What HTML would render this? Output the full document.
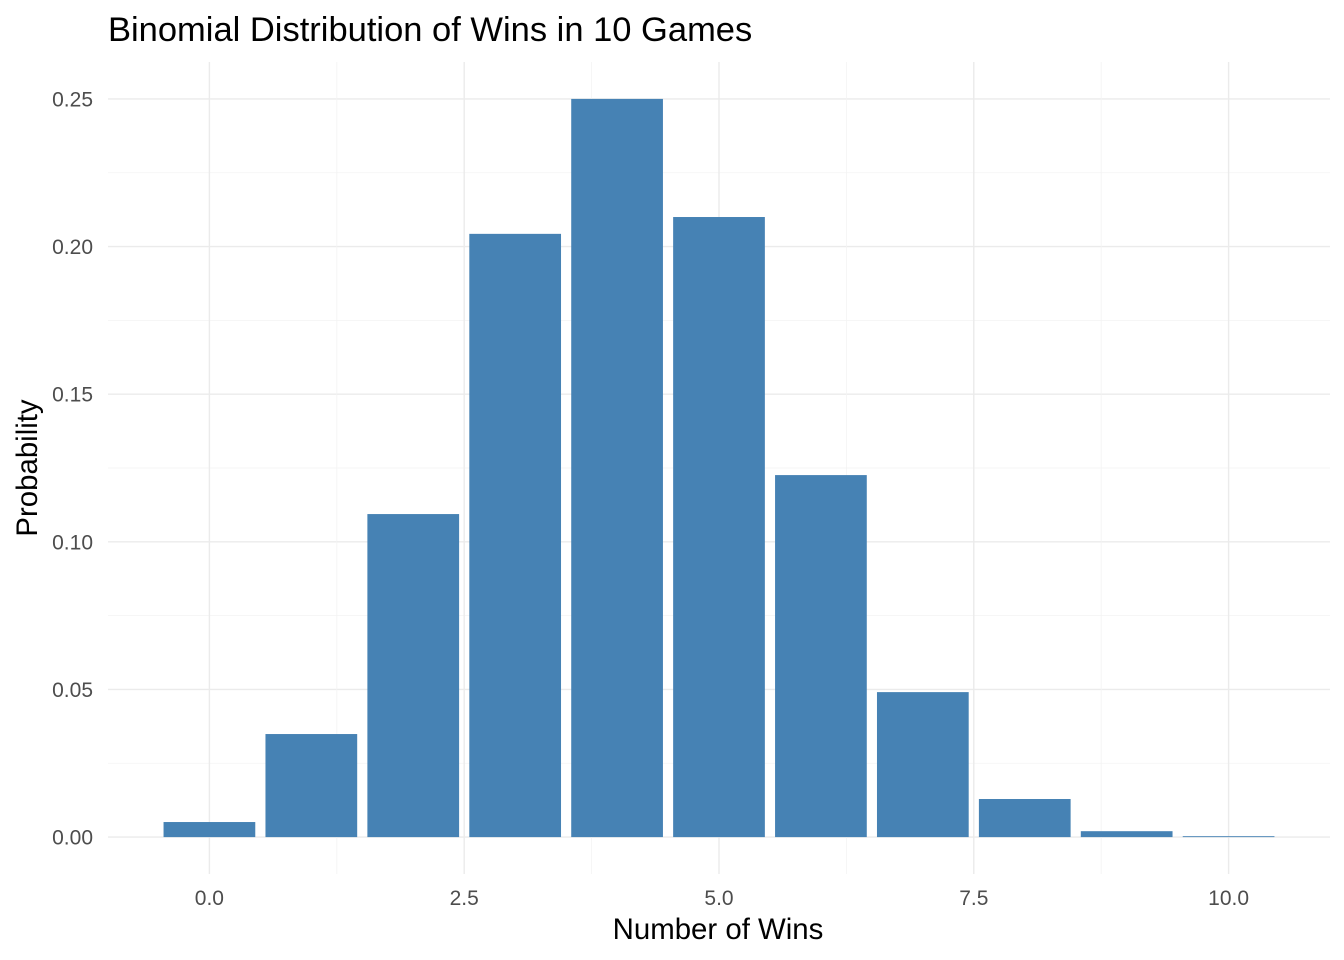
<!DOCTYPE html>
<html><head><meta charset="utf-8"><style>
body{margin:0;background:#fff}
svg{display:block;font-family:"Liberation Sans",Arial,sans-serif}
</style></head><body>
<svg id="chart" width="1344" height="960" viewBox="0 0 1344 960">
<rect width="1344" height="960" fill="#fff"/>
<text x="108" y="41" font-size="34.5" fill="#000">Binomial Distribution of Wins in 10 Games</text>
<g id="grid"></g>
<g id="bars"></g>
<g id="ticks"></g>
<text x="718" y="939" font-size="29.4" text-anchor="middle" fill="#000">Number of Wins</text>
<text transform="translate(37,468) rotate(-90)" font-size="29.4" text-anchor="middle" fill="#000">Probability</text>
</svg>
<script>
const categories=[0,1,2,3,4,5,6,7,8,9,10];
const probabilities=[0.0051,0.0349,0.1094,0.2043,0.25,0.21,0.1226,0.0491,0.0129,0.002,0.0003];
const xTicks=[0,2.5,5,7.5,10];
const xTickLabels=["0.0","2.5","5.0","7.5","10.0"];
const yTicks=[0,0.05,0.1,0.15,0.2,0.25];
const yTickLabels=["0.00","0.05","0.10","0.15","0.20","0.25"];
const NS="http://www.w3.org/2000/svg";
const L=108,R=1330,T=62,B=874;
const xMin=-0.995,xMax=10.995,yMin=-0.0125,yMax=0.2625;
const xs=v=>L+(v-xMin)/(xMax-xMin)*(R-L);
const ys=v=>B-(v-yMin)/(yMax-yMin)*(B-T);
function mk(tag,attrs,parent){const e=document.createElementNS(NS,tag);for(const k in attrs)e.setAttribute(k,attrs[k]);parent.appendChild(e);return e;}
const grid=document.getElementById('grid'),bars=document.getElementById('bars'),ticks=document.getElementById('ticks');
for(let i=0;i<yTicks.length;i++){
  const y=ys(yTicks[i]);
  const g=mk('line',{x1:L,x2:R,y1:y,y2:y,stroke:'#ebebeb','stroke-width':1.4},grid);
  
  
  if(i<yTicks.length-1){const ym=ys((yTicks[i]+yTicks[i+1])/2);
    const m=mk('line',{x1:L,x2:R,y1:ym,y2:ym,stroke:'#f3f3f3','stroke-width':0.8},grid);
    
    }
  const t=mk('text',{x:93,y:y+7.5,'font-size':21,'text-anchor':'end',fill:'#4d4d4d'},ticks);
  t.textContent=yTickLabels[i];
  
  
}
for(let i=0;i<xTicks.length;i++){
  const x=xs(xTicks[i]);
  const g=mk('line',{x1:x,x2:x,y1:T,y2:B,stroke:'#ebebeb','stroke-width':1.4},grid);
  
  
  if(i<xTicks.length-1){const xm=xs((xTicks[i]+xTicks[i+1])/2);
    const m=mk('line',{x1:xm,x2:xm,y1:T,y2:B,stroke:'#f3f3f3','stroke-width':0.8},grid);
    
    }
  const t=mk('text',{x:x,y:905,'font-size':21,'text-anchor':'middle',fill:'#4d4d4d'},ticks);
  t.textContent=xTickLabels[i];
  
  
}
for(let i=0;i<categories.length;i++){
  const x0=xs(categories[i]-0.45),x1=xs(categories[i]+0.45),y=ys(probabilities[i]),y0=ys(0);
  const r=mk('rect',{x:x0,y:y,width:x1-x0,height:Math.max(y0-y,0.8),fill:'#4682b4'},bars);
  
  
}
</script>
</body></html>
